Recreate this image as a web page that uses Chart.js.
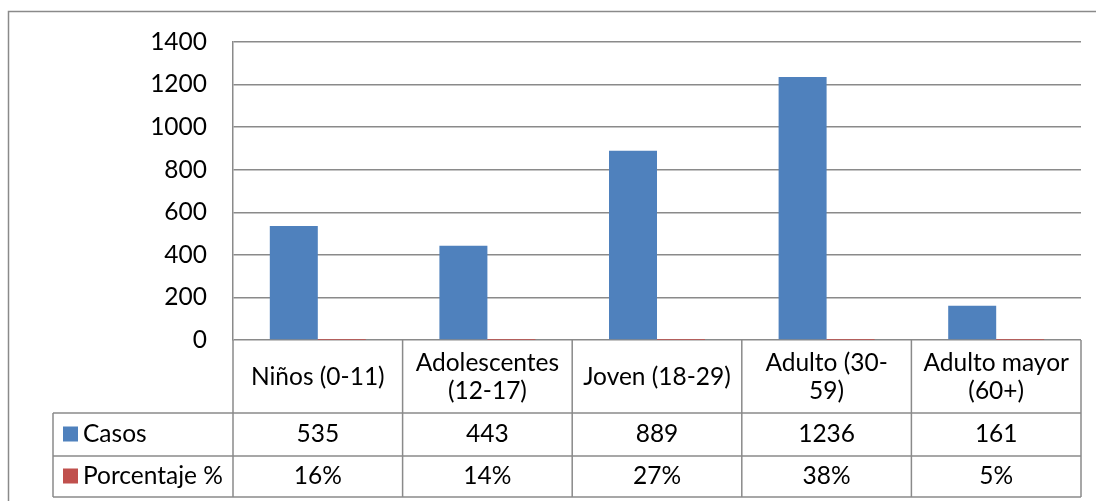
<!DOCTYPE html>
<html>
<head>
<meta charset="utf-8">
<script src="https://cdn.jsdelivr.net/npm/chart.js@4.4.1/dist/chart.umd.min.js"></script>
<style>
  html, body { margin: 0; padding: 0; background: #fff; }
  canvas { display: block; }
</style>
</head>
<body>
<canvas id="edad-chart" width="1096" height="501"></canvas>
<script>
const grupos = [["Niños (0-11)"], ["Adolescentes", "(12-17)"], ["Joven (18-29)"], ["Adulto (30-", "59)"], ["Adulto mayor", "(60+)"]];
const casos = [535, 443, 889, 1236, 161];
const porcentaje = [0.16, 0.14, 0.27, 0.38, 0.05];
const yMax = 1400;
const yStep = 200;

const lineColor = "#8a8a8a";
const fontFamily = "Lato, 'Liberation Sans', sans-serif";
const fontSize = 24.5;

// data table under the plot: header row with the groups, then one row per series
const dataTable = {
  id: "dataTable",
  afterDraw(chart) {
    const ctx = chart.ctx;
    const xs = chart.scales.x;
    const area = chart.chartArea;
    const colW = (area.right - area.left) / grupos.length;
    const legendLeft = 53;
    const headBottom = area.bottom + 73;
    const rowBottoms = [headBottom + 43, headBottom + 84];

    ctx.save();
    ctx.strokeStyle = lineColor;
    ctx.lineWidth = 1.5;

    // outer frame
    ctx.beginPath();
    ctx.moveTo(8.5, 600);
    ctx.lineTo(8.5, 11.5);
    ctx.lineTo(1200, 11.5);
    ctx.stroke();

    ctx.beginPath();
    for (let i = 0; i <= grupos.length; i++) {
      const x = area.left + i * colW;
      ctx.moveTo(x, area.bottom);
      ctx.lineTo(x, rowBottoms[1]);
    }
    ctx.moveTo(legendLeft, headBottom);
    ctx.lineTo(legendLeft, rowBottoms[1]);
    [headBottom, ...rowBottoms].forEach(y => {
      ctx.moveTo(legendLeft, y);
      ctx.lineTo(area.right, y);
    });
    ctx.stroke();

    ctx.fillStyle = "#000";
    ctx.font = fontSize + "px " + fontFamily;
    ctx.textAlign = "center";
    ctx.textBaseline = "middle";

    const headMid = (area.bottom + headBottom) / 2 + 1;
    grupos.forEach((lines, i) => {
      const cx = xs.getPixelForValue(i);
      const lh = 28;
      lines.forEach((t, j) => {
        ctx.fillText(t, cx, headMid + (j - (lines.length - 1) / 2) * lh);
      });
    });

    const rows = chart.data.datasets.map((ds, k) => ({
      label: ds.label,
      color: ds.backgroundColor,
      values: k === 0 ? ds.data.map(v => String(v)) : ds.data.map(v => Math.round(v * 100) + "%"),
      mid: k === 0 ? (headBottom + rowBottoms[0]) / 2 : (rowBottoms[0] + rowBottoms[1]) / 2
    }));

    rows.forEach(r => {
      r.values.forEach((t, i) => {
        ctx.fillText(t, xs.getPixelForValue(i), r.mid);
      });
      ctx.fillStyle = r.color;
      ctx.fillRect(63, r.mid - 8, 15, 15);
      ctx.fillStyle = "#000";
      ctx.textAlign = "left";
      ctx.fillText(r.label, 83, r.mid);
      ctx.textAlign = "center";
    });
    ctx.restore();
  }
};

new Chart(document.getElementById("edad-chart"), {
  type: "bar",
  data: {
    labels: grupos,
    datasets: [
      {
        label: "Casos",
        data: casos,
        backgroundColor: "#4f81bd",
        categoryPercentage: 0.566,
        barPercentage: 1
      },
      {
        label: "Porcentaje %",
        data: porcentaje,
        backgroundColor: "#c0504d",
        categoryPercentage: 0.566,
        barPercentage: 1
      }
    ]
  },
  options: {
    responsive: false,
    animation: false,
    layout: {
      padding: { left: 0, top: 42, right: 15, bottom: 161 }
    },
    scales: {
      x: {
        grid: { display: false, drawTicks: false },
        border: { display: false },
        ticks: { display: false }
      },
      y: {
        min: 0,
        max: yMax,
        afterFit(scale) {
          scale.width = 233;
        },
        ticks: {
          stepSize: yStep,
          padding: 26,
          color: "#000",
          font: { family: fontFamily, size: fontSize },
          callback: v => String(v)
        },
        grid: {
          color: lineColor,
          lineWidth: 1.5,
          drawTicks: false
        },
        border: { color: lineColor, width: 1.5 }
      }
    },
    plugins: {
      legend: { display: false },
      tooltip: { enabled: false }
    }
  },
  plugins: [dataTable]
});
</script>
</body>
</html>
